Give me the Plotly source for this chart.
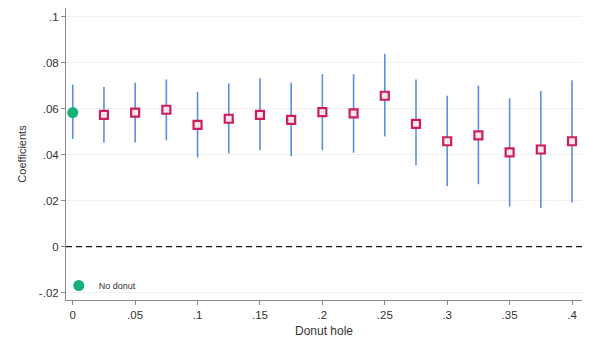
import plotly.graph_objects as go

# Donut-hole sizes and estimated coefficients with 95% CIs
donut_hole = [0.025, 0.05, 0.075, 0.1, 0.125, 0.15, 0.175, 0.2, 0.225,
              0.25, 0.275, 0.3, 0.325, 0.35, 0.375, 0.4]
coef = [0.0574, 0.0584, 0.0596, 0.0530, 0.0557, 0.0574, 0.0552, 0.0586, 0.0580,
        0.0657, 0.0535, 0.0459, 0.0485, 0.0411, 0.0423, 0.0459]
ci_lo = [0.0454, 0.0454, 0.0463, 0.0388, 0.0406, 0.0420, 0.0394, 0.0420, 0.0409,
         0.0480, 0.0354, 0.0264, 0.0272, 0.0175, 0.0168, 0.0192]
ci_hi = [0.0695, 0.0714, 0.0728, 0.0673, 0.0711, 0.0733, 0.0714, 0.0751, 0.0751,
         0.0840, 0.0728, 0.0657, 0.0701, 0.0646, 0.0678, 0.0725]

# Baseline estimate without a donut hole
base_x = [0.0]
base_coef = [0.0584]
base_lo = [0.0469]
base_hi = [0.0705]

y_ticks = [-0.02, 0, 0.02, 0.04, 0.06, 0.08, 0.1]
y_tick_text = ["-.02", "0", ".02", ".04", ".06", ".08", ".1"]
x_ticks = [0, 0.05, 0.1, 0.15, 0.2, 0.25, 0.3, 0.35, 0.4]
x_tick_text = ["0", ".05", ".1", ".15", ".2", ".25", ".3", ".35", ".4"]

ci_color = "#5b8fd9"
font_family = "Liberation Sans, Arial, sans-serif"

fig = go.Figure()

fig.add_trace(go.Scatter(
    x=base_x, y=base_coef, mode="markers", name="No donut",
    marker=dict(symbol="circle", size=11, color="#17b07b",
                line=dict(width=0)),
    error_y=dict(type="data", symmetric=False,
                 array=[h - c for h, c in zip(base_hi, base_coef)],
                 arrayminus=[c - l for c, l in zip(base_coef, base_lo)],
                 color=ci_color, thickness=1.6, width=0),
    showlegend=True,
))

fig.add_trace(go.Scatter(
    x=donut_hole, y=coef, mode="markers", name="Donut",
    marker=dict(symbol="square", size=8, color="#f6e6ee",
                line=dict(width=2.2, color="#cc1f5e")),
    error_y=dict(type="data", symmetric=False,
                 array=[h - c for h, c in zip(ci_hi, coef)],
                 arrayminus=[c - l for c, l in zip(coef, ci_lo)],
                 color=ci_color, thickness=1.6, width=0),
    showlegend=False,
))

fig.add_hline(y=0, line=dict(color="#1a1a1a", width=1.2, dash="6px,4px"),
              layer="above")

fig.update_layout(
    width=590, height=343,
    margin=dict(l=66, r=8, t=8, b=43),
    paper_bgcolor="white", plot_bgcolor="white",
    font=dict(family=font_family, size=11.5, color="#333333"),
    xaxis=dict(
        range=[-0.0054, 0.408], tickvals=x_ticks, ticktext=x_tick_text,
        showgrid=False, zeroline=False, showline=True, linecolor="#8a8a8a",
        linewidth=1, ticks="outside", ticklen=4, tickcolor="#8a8a8a",
        title=dict(text="Donut hole", font=dict(size=12), standoff=6),
    ),
    yaxis=dict(
        range=[-0.0232, 0.1039], tickvals=y_ticks, ticktext=y_tick_text,
        showgrid=True, gridcolor="#f0f0f0", gridwidth=1,
        zeroline=False, showline=True, linecolor="#8a8a8a", linewidth=1,
        ticks="outside", ticklen=4, tickcolor="#8a8a8a",
        title=dict(text="Coefficients", font=dict(size=11), standoff=10),
    ),
    legend=dict(x=-0.014, y=0.0, xanchor="left", yanchor="bottom",
                bgcolor="rgba(0,0,0,0)", font=dict(size=9),
                itemwidth=30, tracegroupgap=0),
)

fig.write_html("out.html")
